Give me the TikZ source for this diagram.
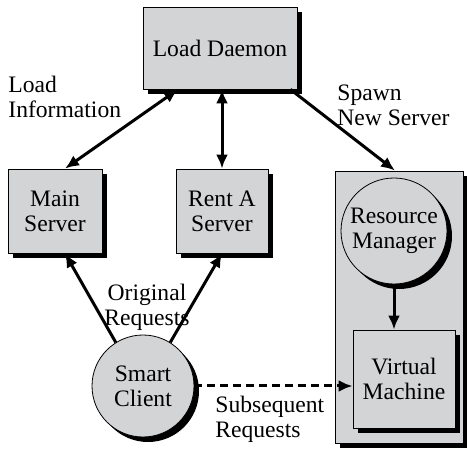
\documentclass[tikz,border=0pt]{standalone}
\usepackage{fontspec}
\setmainfont{Liberation Serif}
\usepackage{tikz}
\usetikzlibrary{shapes.geometric, arrows.meta, shadows, positioning}
\definecolor{boxgray}{RGB}{211,212,214}
\tikzstyle{block} = [draw, line width=0.4pt, fill=boxgray, align=center,
    drop shadow={fill=black, opacity=1, shadow xshift=2.5pt, shadow yshift=-2.5pt}]
\tikzstyle{box} = [block, rectangle, inner sep=0pt]
\tikzstyle{round} = [block, circle, inner sep=0pt]
\tikzstyle{link} = [line width=1.5pt,->,>={Latex[length=7pt,width=6pt]}]
\tikzstyle{note} = [align=left, inner sep=0pt]

\begin{document}
\begin{tikzpicture}[x=0.5pt, y=-0.5pt, font=\fontsize{11.8}{12.6}\selectfont]
    \useasboundingbox (0,0) rectangle (467,449);
    \node[box, minimum width=77pt, minimum height=41pt] (daemon) at (220,48) {Load Daemon};
    \node[box, minimum width=47pt, minimum height=42pt] (main) at (55,211) {Main\\Server};
    \node[box, minimum width=46pt, minimum height=42pt] (rent) at (222,211) {Rent A\\Server};
    \node[box, minimum width=64pt, minimum height=136pt] (host) at (399,307) {};
    \node[round, minimum size=53pt] (rm) at (394,231) {Resource\\Manager};
    \node[box, minimum width=51pt, minimum height=49pt] (vm) at (404,379) {Virtual\\Machine};
    \node[round, minimum size=51pt] (client) at (143,386) {Smart\\Client};
    % labels
    \node[note, anchor=west] (loadinfo) at (8,97) {Load\\Information};
    \node[note, anchor=west] (spawn) at (337,105) {Spawn\\New Server};
    \node[note, align=center] (orig) at (147,307) {Original\\Requests};
    \node[note, anchor=west] (subseq) at (215,419) {Subsequent\\Requests};
    % connectors
    \draw[link, <->] ([xshift=-21pt]daemon.south) -- ([xshift=5pt]main.north);
    \draw[link, <->] ([xshift=1pt]daemon.south) -- (rent.north);
    \draw[link] ([xshift=-3.5pt]daemon.south east) -- ([xshift=-2pt]host.north);
    \draw[link] (client.122) -- ([xshift=5pt]main.south);
    \draw[link] (client.58) -- (rent.south);
    \draw[link] (rm.south) -- (rm.south |- vm.north);
    \draw[link, dash pattern=on 4pt off 2.5pt] (client.east) -- (client.east -| vm.west);
\end{tikzpicture}
\end{document}
